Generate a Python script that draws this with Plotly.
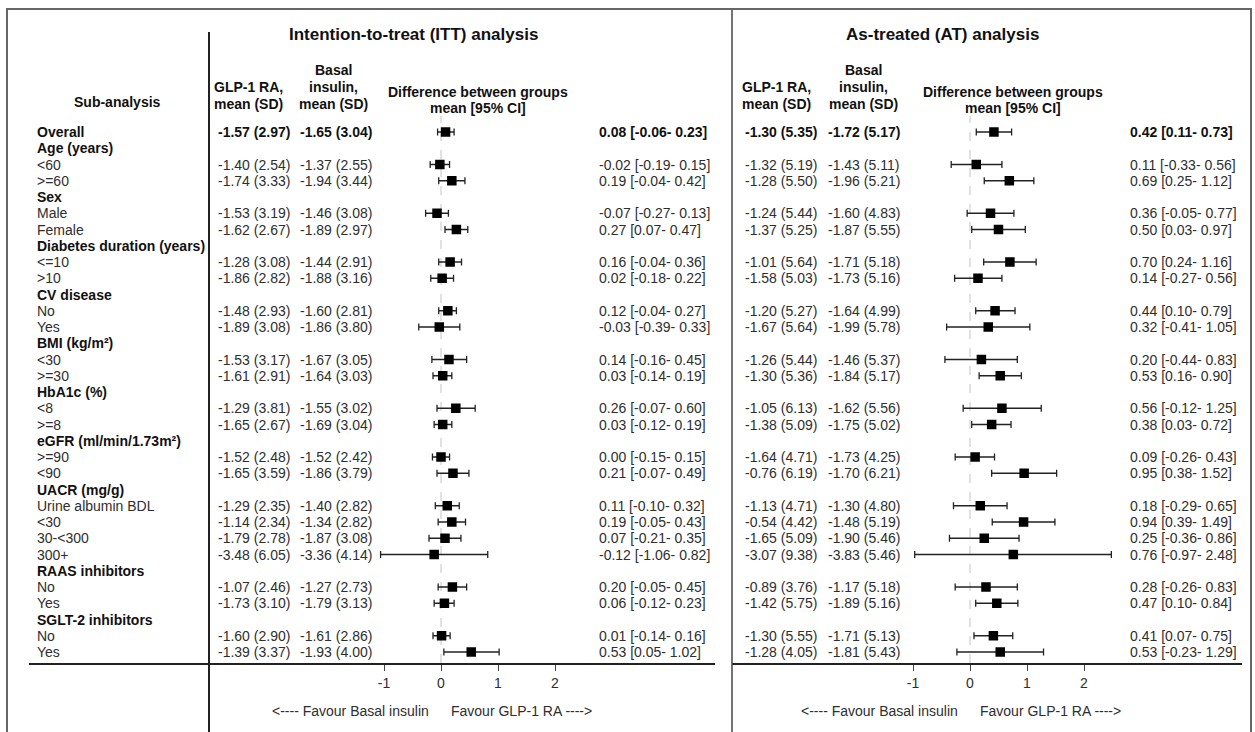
import plotly.graph_objects as go

W, H = 1255, 732
N = None

row_labels = ["Overall", "Age (years)", "<60", ">=60", "Sex", "Male", "Female",
              "Diabetes duration (years)", "<=10", ">10", "CV disease", "No", "Yes",
              "BMI (kg/m²)", "<30", ">=30", "HbA1c (%)", "<8", ">=8",
              "eGFR (ml/min/1.73m²)", ">=90", "<90", "UACR (mg/g)", "Urine albumin BDL",
              "<30", "30-<300", "300+", "RAAS inhibitors", "No", "Yes",
              "SGLT-2 inhibitors", "No", "Yes"]

itt_glp_mean = [-1.57, N, -1.40, -1.74, N, -1.53, -1.62, N, -1.28, -1.86, N, -1.48, -1.89, N, -1.53, -1.61, N, -1.29, -1.65, N, -1.52, -1.65, N, -1.29, -1.14, -1.79, -3.48, N, -1.07, -1.73, N, -1.60, -1.39]
itt_glp_sd = [2.97, N, 2.54, 3.33, N, 3.19, 2.67, N, 3.08, 2.82, N, 2.93, 3.08, N, 3.17, 2.91, N, 3.81, 2.67, N, 2.48, 3.59, N, 2.35, 2.34, 2.78, 6.05, N, 2.46, 3.10, N, 2.90, 3.37]
itt_bas_mean = [-1.65, N, -1.37, -1.94, N, -1.46, -1.89, N, -1.44, -1.88, N, -1.60, -1.86, N, -1.67, -1.64, N, -1.55, -1.69, N, -1.52, -1.86, N, -1.40, -1.34, -1.87, -3.36, N, -1.27, -1.79, N, -1.61, -1.93]
itt_bas_sd = [3.04, N, 2.55, 3.44, N, 3.08, 2.97, N, 2.91, 3.16, N, 2.81, 3.80, N, 3.05, 3.03, N, 3.02, 3.04, N, 2.42, 3.79, N, 2.82, 2.82, 3.08, 4.14, N, 2.73, 3.13, N, 2.86, 4.00]
itt_diff = [0.08, N, -0.02, 0.19, N, -0.07, 0.27, N, 0.16, 0.02, N, 0.12, -0.03, N, 0.14, 0.03, N, 0.26, 0.03, N, 0.00, 0.21, N, 0.11, 0.19, 0.07, -0.12, N, 0.20, 0.06, N, 0.01, 0.53]
itt_lo = [-0.06, N, -0.19, -0.04, N, -0.27, 0.07, N, -0.04, -0.18, N, -0.04, -0.39, N, -0.16, -0.14, N, -0.07, -0.12, N, -0.15, -0.07, N, -0.10, -0.05, -0.21, -1.06, N, -0.05, -0.12, N, -0.14, 0.05]
itt_hi = [0.23, N, 0.15, 0.42, N, 0.13, 0.47, N, 0.36, 0.22, N, 0.27, 0.33, N, 0.45, 0.19, N, 0.60, 0.19, N, 0.15, 0.49, N, 0.32, 0.43, 0.35, 0.82, N, 0.45, 0.23, N, 0.16, 1.02]

at_glp_mean = [-1.30, N, -1.32, -1.28, N, -1.24, -1.37, N, -1.01, -1.58, N, -1.20, -1.67, N, -1.26, -1.30, N, -1.05, -1.38, N, -1.64, -0.76, N, -1.13, -0.54, -1.65, -3.07, N, -0.89, -1.42, N, -1.30, -1.28]
at_glp_sd = [5.35, N, 5.19, 5.50, N, 5.44, 5.25, N, 5.64, 5.03, N, 5.27, 5.64, N, 5.44, 5.36, N, 6.13, 5.09, N, 4.71, 6.19, N, 4.71, 4.42, 5.09, 9.38, N, 3.76, 5.75, N, 5.55, 4.05]
at_bas_mean = [-1.72, N, -1.43, -1.96, N, -1.60, -1.87, N, -1.71, -1.73, N, -1.64, -1.99, N, -1.46, -1.84, N, -1.62, -1.75, N, -1.73, -1.70, N, -1.30, -1.48, -1.90, -3.83, N, -1.17, -1.89, N, -1.71, -1.81]
at_bas_sd = [5.17, N, 5.11, 5.21, N, 4.83, 5.55, N, 5.18, 5.16, N, 4.99, 5.78, N, 5.37, 5.17, N, 5.56, 5.02, N, 4.25, 6.21, N, 4.80, 5.19, 5.46, 5.46, N, 5.18, 5.16, N, 5.13, 5.43]
at_diff = [0.42, N, 0.11, 0.69, N, 0.36, 0.50, N, 0.70, 0.14, N, 0.44, 0.32, N, 0.20, 0.53, N, 0.56, 0.38, N, 0.09, 0.95, N, 0.18, 0.94, 0.25, 0.76, N, 0.28, 0.47, N, 0.41, 0.53]
at_lo = [0.11, N, -0.33, 0.25, N, -0.05, 0.03, N, 0.24, -0.27, N, 0.10, -0.41, N, -0.44, 0.16, N, -0.12, 0.03, N, -0.26, 0.38, N, -0.29, 0.39, -0.36, -0.97, N, -0.26, 0.10, N, 0.07, -0.23]
at_hi = [0.73, N, 0.56, 1.12, N, 0.77, 0.97, N, 1.16, 0.56, N, 0.79, 1.05, N, 0.83, 0.90, N, 1.25, 0.72, N, 0.43, 1.52, N, 0.65, 1.49, 0.86, 2.48, N, 0.83, 0.84, N, 0.75, 1.29]

tick_vals = [-1, 0, 1, 2]
tick_text = ["-1", "0", "1", "2"]
panel_titles = ["Intention-to-treat (ITT) analysis", "As-treated (AT) analysis"]

# ---------------- geometry (pixels) ----------------
FONT = "Liberation Sans, Arial, sans-serif"
ROW0, STEP, AXIS_Y = 132, 16.25, 663
PX_PER_UNIT = 57.0
panels = [
    dict(zero=441, dom=(29, 715), glp=216, bas=298, txt=597, glp_c=248, bas_c=333, dif_c=478, title_c=413,
         fav_l=431, fav_r=449),
    dict(zero=970, dom=(732, 1242), glp=743, bas=826, txt=1128, glp_c=776, bas_c=863, dif_c=1013, title_c=943,
         fav_l=960, fav_r=978),
]

fig = go.Figure()
ann = []


def add_text(xp, y, text, anchor="left", size=14, bold=False, color="#2e2e2e", yref="y"):
    if bold:
        text = "<b>" + text + "</b>"
        color = "#111"
    ann.append(dict(x=xp / W, xref="paper", y=y if yref == "y" else 1 - y / H, yref=yref,
                    text=text, showarrow=False, xanchor=anchor, yanchor="middle",
                    font=dict(family=FONT, size=size, color=color)))


def fmt_msd(m, s):
    return f"{m:.2f} ({s:.2f})"


def fmt_ci(d, lo, hi):
    return f"{d:.2f} [{lo:.2f}- {hi:.2f}]"


series = [
    (itt_glp_mean, itt_glp_sd, itt_bas_mean, itt_bas_sd, itt_diff, itt_lo, itt_hi),
    (at_glp_mean, at_glp_sd, at_bas_mean, at_bas_sd, at_diff, at_lo, at_hi),
]

# row labels
for i, lab in enumerate(row_labels):
    is_header = itt_diff[i] is None
    add_text(35, i, lab, bold=(is_header or i == 0))

for p, (P, S) in enumerate(zip(panels, series)):
    gm, gs, bm, bs, d, lo, hi = S
    xs, ys, ep, em = [], [], [], []
    for i in range(len(row_labels)):
        if d[i] is None:
            continue
        b = (i == 0)
        add_text(P["glp"], i, fmt_msd(gm[i], gs[i]), bold=b)
        add_text(P["bas"], i, fmt_msd(bm[i], bs[i]), bold=b)
        add_text(P["txt"], i, fmt_ci(d[i], lo[i], hi[i]), bold=b)
        xs.append(d[i]); ys.append(i)
        ep.append(hi[i] - d[i]); em.append(d[i] - lo[i])
    fig.add_trace(go.Scatter(
        x=xs, y=ys, mode="markers", xaxis="x" if p == 0 else "x2", yaxis="y",
        marker=dict(symbol="square", size=9.5, color="#000"),
        error_x=dict(type="data", symmetric=False, array=ep, arrayminus=em,
                     color="#222", thickness=1.3, width=3.5),
        showlegend=False, hoverinfo="x+y"))

    # headers
    add_text(P["title_c"], 34, panel_titles[p], anchor="center", size=17, bold=True, yref="paper")
    add_text(P["glp_c"], 87, "GLP-1 RA,", anchor="center", bold=True, yref="paper")
    add_text(P["glp_c"], 104, "mean (SD)", anchor="center", bold=True, yref="paper")
    add_text(P["bas_c"], 70, "Basal", anchor="center", bold=True, yref="paper")
    add_text(P["bas_c"], 87, "insulin,", anchor="center", bold=True, yref="paper")
    add_text(P["bas_c"], 104, "mean (SD)", anchor="center", bold=True, yref="paper")
    add_text(P["dif_c"], 92, "Difference between groups", anchor="center", bold=True, yref="paper")
    add_text(P["dif_c"], 108, "mean [95% CI]", anchor="center", bold=True, yref="paper")
    add_text(P["fav_l"], 711, "<---- Favour Basal insulin", anchor="right", yref="paper")
    add_text(P["fav_r"], 711, "Favour GLP-1 RA ---->", anchor="left", yref="paper")

add_text(117, 102, "Sub-analysis", anchor="center", bold=True, yref="paper")


def xaxis_cfg(P):
    a, b = P["dom"]
    return dict(domain=[a / W, b / W],
                range=[(a - P["zero"]) / PX_PER_UNIT, (b - P["zero"]) / PX_PER_UNIT],
                anchor="y", showgrid=False, zeroline=False, showline=True,
                linecolor="#222", linewidth=1.5, ticks="outside", ticklen=6,
                tickcolor="#444", tickwidth=1, tickvals=tick_vals, ticktext=tick_text,
                tickfont=dict(family=FONT, size=14, color="#2e2e2e"), fixedrange=True)


shapes = []
for p, P in enumerate(panels):
    shapes.append(dict(type="line", xref="x" if p == 0 else "x2", x0=0, x1=0,
                       yref="paper", y0=1 - AXIS_Y / H, y1=1 - 116 / H,
                       line=dict(color="#c4c4c4", width=1, dash="dash"), layer="below"))

# frame lines
shapes.append(dict(type="line", xref="paper", yref="paper", x0=209 / W, x1=209 / W,
                   y0=1 - 32 / H, y1=0, line=dict(color="#222", width=2)))
shapes.append(dict(type="line", xref="paper", yref="paper", x0=732 / W, x1=732 / W,
                   y0=1 - 9 / H, y1=0, line=dict(color="#444", width=1.5)))
shapes.append(dict(type="rect", xref="paper", yref="paper", x0=7 / W, x1=1251 / W,
                   y0=1 - 9 / H, y1=-0.05, line=dict(color="#666", width=2)))

fig.update_layout(
    width=W, height=H, margin=dict(l=0, r=0, t=0, b=0),
    paper_bgcolor="white", plot_bgcolor="white",
    xaxis=xaxis_cfg(panels[0]), xaxis2=xaxis_cfg(panels[1]),
    yaxis=dict(domain=[(H - AXIS_Y) / H, 1],
               range=[(AXIS_Y - ROW0) / STEP, -ROW0 / STEP],
               visible=False, fixedrange=True),
    annotations=ann, shapes=shapes, showlegend=False,
)

fig.write_html("out.html", config={"displayModeBar": False},
               post_script="document.body.style.margin='0';document.body.style.overflow='hidden';")
